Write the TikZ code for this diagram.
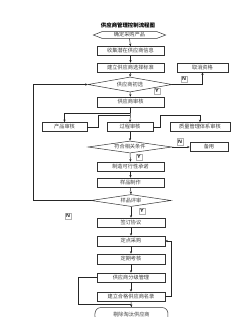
\documentclass[tikz,border=0pt]{standalone}
\usepackage{fontspec}
\newfontfamily\cjk{Noto Sans CJK SC}
\usetikzlibrary{arrows.meta,shapes.geometric,calc}
\begin{document}
\begin{tikzpicture}[x=1pt,y=-1pt,
  every node/.style={font=\cjk\fontsize{5.2}{6}\selectfont, text=black!75, inner sep=0pt},
  box/.style={draw=black!80, line width=0.5pt, minimum height=9pt, minimum width=67pt},
  dia/.style={draw=black!80, line width=0.5pt, diamond, aspect=5.5},
  lab/.style={draw=black!30, line width=0.3pt, font=\sffamily\bfseries\fontsize{5}{5}\selectfont, text=black, minimum width=6pt, minimum height=6.5pt},
  arr/.style={draw=black!85, line width=0.5pt, -{Stealth[length=2.6pt,width=2.2pt]}},
  ln/.style={draw=black!85, line width=0.5pt}]
\clip (0,0) rectangle (248,317);
\fill[white] (0,0) rectangle (248,317);

\node[font=\cjk\bfseries\fontsize{5.4}{6}\selectfont, text=black] (title) at (128,25) {供应商管理控制流程图};

\node[minimum width=54pt, minimum height=6.5pt] (hex) at (129.5,35) {确定采购产品};
\draw[black!80, line width=0.5pt] (hex.north west) -- (hex.north east) -- ($(hex.east)+(9,0)$) -- (hex.south east) -- (hex.south west) -- ($(hex.west)+(-9,0)$) -- cycle;

\node[box] (b1) at (130.5,51) {收集潜在供应商信息};
\node[box] (b2) at (130.5,67.5) {建立供应商选择标准};
\node[box, minimum width=51pt] (cancel) at (202.5,67.5) {取消资格};
\node[dia, minimum width=84pt, minimum height=15pt] (d1) at (130,84.5) {供应商初选};
\node[lab] (n1) at (184,79) {N};
\node[lab] (y1) at (157,91) {Y};
\node[box, minimum height=10pt] (b3) at (130.5,102) {供应商审核};

\node[box, minimum width=45pt] (p1) at (64.5,127) {产品审核};
\node[box, minimum width=46pt] (p2) at (130,127) {过程审核};
\node[box, minimum width=60pt] (p3) at (200,127) {质量管理体系审核};

\node[dia, minimum width=84pt, minimum height=12pt] (d2) at (130,147) {符合相关条件};
\node[box, minimum width=38pt] (spare) at (209,147) {备用};
\node[lab] (n2) at (180,141.5) {N};
\node[lab] (y2) at (139,157) {Y};

\node[box] (b4) at (130.5,166.5) {制造可行性承诺};
\node[box] (b5) at (130.5,182.5) {样品制作};
\node[dia, minimum width=80pt, minimum height=12pt] (d3) at (131,200.5) {样品评审};
\node[lab] (y3) at (142,211) {Y};
\node[lab] (n3) at (68,216) {N};

\node[box, minimum width=68pt] (b6) at (131,222.5) {签订协议};
\node[box, minimum width=68pt, minimum height=10pt] (b7) at (131,241) {定点采购};
\node[box, minimum width=68pt, minimum height=10pt] (b8) at (131,259) {定期考核};
\node[box, minimum width=68pt] (b9) at (131,277.5) {供应商分级管理};
\node[box, minimum width=68pt] (b10) at (131,296.5) {建立合格供应商名录};
\node[draw=black!80, line width=0.5pt, rounded corners=6pt, minimum width=73pt, minimum height=15pt] (term) at (131.5,315) {剔除淘汰供应商};

% connectors
\draw[arr] (hex.south) -- (b1.north);
\draw[arr] (b1.south) -- (b2.north);
\draw[arr] (b2.south) -- (d1.north);
\draw[arr] (d1.south) -- (b3.north);
\draw[arr] (d1.east) -| (cancel.south);

\coordinate (j1) at (130.5,113);
\coordinate (j2) at (130.5,115);
\coordinate (j3) at (200,115);
\draw[ln] (b3.south) -- (j1);
\draw[arr] (j1) -| (p1.north);
\draw[arr] (j1) -- (p2.north);
\draw[ln] (p1.east) -- ++(11,0) |- (j2);
\draw[arr] (p2.east) -- ++(7,0) |- (j3) -- (p3.north);

\draw[arr] (p2.south) -- (d2.north);
\draw[arr] (d2.east) -- (spare.west);
\draw[arr] (d2.south) -- (b4.north);
\draw[arr] (b4.south) -- (b5.north);
\draw[arr] (b5.south) -- (d3.north);
\draw[arr] (d3.west) -- (33,200.5) |- (d1.west);
\draw[arr] (d3.south) -- (b6.north);
\draw[arr] (b6.south) -- (b7.north);
\draw[arr] (b7.south) -- (b8.north);
\draw[arr] (b8.south) -- (b9.north);
\draw[arr] (b9.south) -- (b10.north);
\draw[arr] (b10.south) -- (term.north);
\draw[arr] (b10.east) -- ++(6,0) |- (b7.east);
\coordinate (j4) at (131,304);
\draw[ln] (b9.west) -- ++(-18,0) |- (j4);
\end{tikzpicture}
\end{document}
